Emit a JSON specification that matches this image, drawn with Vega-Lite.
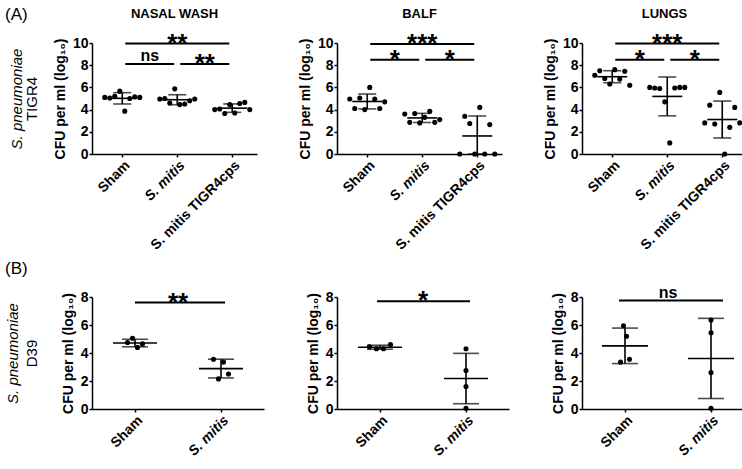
{
"$schema": "https://vega.github.io/schema/vega-lite/v6.json",
"background": "white",
"padding": 5,
"title": {"text": "(A)", "anchor": "start", "frame": "bounds", "offset": -16, "fontSize": 17, "fontWeight": "normal", "font": "Liberation Sans", "color": "#000000"},
"datasets": {
"pts": [
{"strain":"TIGR4","site":"NASAL WASH","group":"Sham","mouse":1,"cfu":5.1},
{"strain":"TIGR4","site":"NASAL WASH","group":"Sham","mouse":2,"cfu":5.05},
{"strain":"TIGR4","site":"NASAL WASH","group":"Sham","mouse":3,"cfu":5.2},
{"strain":"TIGR4","site":"NASAL WASH","group":"Sham","mouse":4,"cfu":5.66},
{"strain":"TIGR4","site":"NASAL WASH","group":"Sham","mouse":5,"cfu":3.86},
{"strain":"TIGR4","site":"NASAL WASH","group":"Sham","mouse":6,"cfu":5.0},
{"strain":"TIGR4","site":"NASAL WASH","group":"Sham","mouse":7,"cfu":5.15},
{"strain":"TIGR4","site":"NASAL WASH","group":"Sham","mouse":8,"cfu":5.1},
{"strain":"TIGR4","site":"NASAL WASH","group":"S. mitis","mouse":1,"cfu":4.95},
{"strain":"TIGR4","site":"NASAL WASH","group":"S. mitis","mouse":2,"cfu":5.0},
{"strain":"TIGR4","site":"NASAL WASH","group":"S. mitis","mouse":3,"cfu":4.6},
{"strain":"TIGR4","site":"NASAL WASH","group":"S. mitis","mouse":4,"cfu":5.87},
{"strain":"TIGR4","site":"NASAL WASH","group":"S. mitis","mouse":5,"cfu":4.45},
{"strain":"TIGR4","site":"NASAL WASH","group":"S. mitis","mouse":6,"cfu":4.5},
{"strain":"TIGR4","site":"NASAL WASH","group":"S. mitis","mouse":7,"cfu":4.8},
{"strain":"TIGR4","site":"NASAL WASH","group":"S. mitis","mouse":8,"cfu":4.95},
{"strain":"TIGR4","site":"NASAL WASH","group":"S. mitis TIGR4cps","mouse":1,"cfu":4.0},
{"strain":"TIGR4","site":"NASAL WASH","group":"S. mitis TIGR4cps","mouse":2,"cfu":4.05},
{"strain":"TIGR4","site":"NASAL WASH","group":"S. mitis TIGR4cps","mouse":3,"cfu":3.65},
{"strain":"TIGR4","site":"NASAL WASH","group":"S. mitis TIGR4cps","mouse":4,"cfu":4.45},
{"strain":"TIGR4","site":"NASAL WASH","group":"S. mitis TIGR4cps","mouse":5,"cfu":3.7},
{"strain":"TIGR4","site":"NASAL WASH","group":"S. mitis TIGR4cps","mouse":6,"cfu":4.55},
{"strain":"TIGR4","site":"NASAL WASH","group":"S. mitis TIGR4cps","mouse":7,"cfu":4.65},
{"strain":"TIGR4","site":"NASAL WASH","group":"S. mitis TIGR4cps","mouse":8,"cfu":4.0},
{"strain":"TIGR4","site":"BALF","group":"Sham","mouse":1,"cfu":4.95},
{"strain":"TIGR4","site":"BALF","group":"Sham","mouse":2,"cfu":4.1},
{"strain":"TIGR4","site":"BALF","group":"Sham","mouse":3,"cfu":5.05},
{"strain":"TIGR4","site":"BALF","group":"Sham","mouse":4,"cfu":4.0},
{"strain":"TIGR4","site":"BALF","group":"Sham","mouse":5,"cfu":6.0},
{"strain":"TIGR4","site":"BALF","group":"Sham","mouse":6,"cfu":4.95},
{"strain":"TIGR4","site":"BALF","group":"Sham","mouse":7,"cfu":4.1},
{"strain":"TIGR4","site":"BALF","group":"Sham","mouse":8,"cfu":4.7},
{"strain":"TIGR4","site":"BALF","group":"S. mitis","mouse":1,"cfu":3.6},
{"strain":"TIGR4","site":"BALF","group":"S. mitis","mouse":2,"cfu":2.85},
{"strain":"TIGR4","site":"BALF","group":"S. mitis","mouse":3,"cfu":3.65},
{"strain":"TIGR4","site":"BALF","group":"S. mitis","mouse":4,"cfu":2.8},
{"strain":"TIGR4","site":"BALF","group":"S. mitis","mouse":5,"cfu":3.3},
{"strain":"TIGR4","site":"BALF","group":"S. mitis","mouse":6,"cfu":3.85},
{"strain":"TIGR4","site":"BALF","group":"S. mitis","mouse":7,"cfu":2.85},
{"strain":"TIGR4","site":"BALF","group":"S. mitis","mouse":8,"cfu":3.1},
{"strain":"TIGR4","site":"BALF","group":"S. mitis TIGR4cps","mouse":1,"cfu":0},
{"strain":"TIGR4","site":"BALF","group":"S. mitis TIGR4cps","mouse":2,"cfu":3.4},
{"strain":"TIGR4","site":"BALF","group":"S. mitis TIGR4cps","mouse":3,"cfu":2.75},
{"strain":"TIGR4","site":"BALF","group":"S. mitis TIGR4cps","mouse":4,"cfu":0},
{"strain":"TIGR4","site":"BALF","group":"S. mitis TIGR4cps","mouse":5,"cfu":4.2},
{"strain":"TIGR4","site":"BALF","group":"S. mitis TIGR4cps","mouse":6,"cfu":0},
{"strain":"TIGR4","site":"BALF","group":"S. mitis TIGR4cps","mouse":7,"cfu":2.65},
{"strain":"TIGR4","site":"BALF","group":"S. mitis TIGR4cps","mouse":8,"cfu":0},
{"strain":"TIGR4","site":"LUNGS","group":"Sham","mouse":1,"cfu":7.1},
{"strain":"TIGR4","site":"LUNGS","group":"Sham","mouse":2,"cfu":7.5},
{"strain":"TIGR4","site":"LUNGS","group":"Sham","mouse":3,"cfu":6.8},
{"strain":"TIGR4","site":"LUNGS","group":"Sham","mouse":4,"cfu":6.3},
{"strain":"TIGR4","site":"LUNGS","group":"Sham","mouse":5,"cfu":7.6},
{"strain":"TIGR4","site":"LUNGS","group":"Sham","mouse":6,"cfu":6.75},
{"strain":"TIGR4","site":"LUNGS","group":"Sham","mouse":7,"cfu":7.45},
{"strain":"TIGR4","site":"LUNGS","group":"Sham","mouse":8,"cfu":6.2},
{"strain":"TIGR4","site":"LUNGS","group":"S. mitis","mouse":1,"cfu":6.0},
{"strain":"TIGR4","site":"LUNGS","group":"S. mitis","mouse":2,"cfu":5.95},
{"strain":"TIGR4","site":"LUNGS","group":"S. mitis","mouse":3,"cfu":5.9},
{"strain":"TIGR4","site":"LUNGS","group":"S. mitis","mouse":4,"cfu":4.7},
{"strain":"TIGR4","site":"LUNGS","group":"S. mitis","mouse":5,"cfu":1.0},
{"strain":"TIGR4","site":"LUNGS","group":"S. mitis","mouse":6,"cfu":5.95},
{"strain":"TIGR4","site":"LUNGS","group":"S. mitis","mouse":7,"cfu":6.0},
{"strain":"TIGR4","site":"LUNGS","group":"S. mitis","mouse":8,"cfu":6.0},
{"strain":"TIGR4","site":"LUNGS","group":"S. mitis TIGR4cps","mouse":1,"cfu":2.8},
{"strain":"TIGR4","site":"LUNGS","group":"S. mitis TIGR4cps","mouse":2,"cfu":4.4},
{"strain":"TIGR4","site":"LUNGS","group":"S. mitis TIGR4cps","mouse":3,"cfu":2.7},
{"strain":"TIGR4","site":"LUNGS","group":"S. mitis TIGR4cps","mouse":4,"cfu":5.55},
{"strain":"TIGR4","site":"LUNGS","group":"S. mitis TIGR4cps","mouse":5,"cfu":0},
{"strain":"TIGR4","site":"LUNGS","group":"S. mitis TIGR4cps","mouse":6,"cfu":2.4},
{"strain":"TIGR4","site":"LUNGS","group":"S. mitis TIGR4cps","mouse":7,"cfu":4.2},
{"strain":"TIGR4","site":"LUNGS","group":"S. mitis TIGR4cps","mouse":8,"cfu":2.8},
{"strain":"D39","site":"NASAL WASH","group":"Sham","mouse":1,"cfu":4.75},
{"strain":"D39","site":"NASAL WASH","group":"Sham","mouse":2,"cfu":5.05},
{"strain":"D39","site":"NASAL WASH","group":"Sham","mouse":3,"cfu":4.4},
{"strain":"D39","site":"NASAL WASH","group":"Sham","mouse":4,"cfu":4.65},
{"strain":"D39","site":"NASAL WASH","group":"S. mitis","mouse":1,"cfu":3.55},
{"strain":"D39","site":"NASAL WASH","group":"S. mitis","mouse":2,"cfu":2.15},
{"strain":"D39","site":"NASAL WASH","group":"S. mitis","mouse":3,"cfu":3.35},
{"strain":"D39","site":"NASAL WASH","group":"S. mitis","mouse":4,"cfu":2.5},
{"strain":"D39","site":"BALF","group":"Sham","mouse":1,"cfu":4.45},
{"strain":"D39","site":"BALF","group":"Sham","mouse":2,"cfu":4.3},
{"strain":"D39","site":"BALF","group":"Sham","mouse":3,"cfu":4.3},
{"strain":"D39","site":"BALF","group":"Sham","mouse":4,"cfu":4.6},
{"strain":"D39","site":"BALF","group":"S. mitis","mouse":1,"cfu":4.3},
{"strain":"D39","site":"BALF","group":"S. mitis","mouse":2,"cfu":2.75},
{"strain":"D39","site":"BALF","group":"S. mitis","mouse":3,"cfu":1.6},
{"strain":"D39","site":"BALF","group":"S. mitis","mouse":4,"cfu":0.05},
{"strain":"D39","site":"LUNGS","group":"Sham","mouse":1,"cfu":3.35},
{"strain":"D39","site":"LUNGS","group":"Sham","mouse":2,"cfu":5.95},
{"strain":"D39","site":"LUNGS","group":"Sham","mouse":3,"cfu":5.2},
{"strain":"D39","site":"LUNGS","group":"Sham","mouse":4,"cfu":3.55},
{"strain":"D39","site":"LUNGS","group":"S. mitis","mouse":1,"cfu":6.35},
{"strain":"D39","site":"LUNGS","group":"S. mitis","mouse":2,"cfu":5.45},
{"strain":"D39","site":"LUNGS","group":"S. mitis","mouse":3,"cfu":2.6},
{"strain":"D39","site":"LUNGS","group":"S. mitis","mouse":4,"cfu":0.05}
],
"sig": [
{"strain":"TIGR4","site":"NASAL WASH","from":"Sham","to":"S. mitis TIGR4cps","mid":"S. mitis","y":9.95,"label":"**"},
{"strain":"TIGR4","site":"NASAL WASH","from":"Sham","to":"S. mitis","mid":"Sham~S. mitis","y":8.1,"label":"ns"},
{"strain":"TIGR4","site":"NASAL WASH","from":"S. mitis","to":"S. mitis TIGR4cps","mid":"S. mitis~TIGR4cps","y":8.1,"label":"**"},
{"strain":"TIGR4","site":"BALF","from":"Sham","to":"S. mitis TIGR4cps","mid":"S. mitis","y":9.9,"label":"***"},
{"strain":"TIGR4","site":"BALF","from":"Sham","to":"S. mitis","mid":"Sham~S. mitis","y":8.5,"label":"*"},
{"strain":"TIGR4","site":"BALF","from":"S. mitis","to":"S. mitis TIGR4cps","mid":"S. mitis~TIGR4cps","y":8.5,"label":"*"},
{"strain":"TIGR4","site":"LUNGS","from":"Sham","to":"S. mitis TIGR4cps","mid":"S. mitis","y":9.95,"label":"***"},
{"strain":"TIGR4","site":"LUNGS","from":"Sham","to":"S. mitis","mid":"Sham~S. mitis","y":8.5,"label":"*"},
{"strain":"TIGR4","site":"LUNGS","from":"S. mitis","to":"S. mitis TIGR4cps","mid":"S. mitis~TIGR4cps","y":8.5,"label":"*"},
{"strain":"D39","site":"NASAL WASH","from":"Sham","to":"S. mitis","mid":"Sham~S. mitis","y":7.6,"label":"**"},
{"strain":"D39","site":"BALF","from":"Sham","to":"S. mitis","mid":"Sham~S. mitis","y":7.7,"label":"*"},
{"strain":"D39","site":"LUNGS","from":"Sham","to":"S. mitis","mid":"Sham~S. mitis","y":7.75,"label":"ns"}
]
},
"columns": 3,
"spacing": {"row": 6, "column": 34},
"concat": [
{
"width": 165, "height": 111, "title": "NASAL WASH",
"resolve": {"axis": {"x": "independent", "y": "independent"}},
"layer": [
{"data": {"name": "pts"}, "transform": [{"filter": "datum.strain==='TIGR4'&&datum.site==='NASAL WASH'"}],
 "mark": {"type": "circle", "size": 26, "color": "black", "opacity": 1, "xOffset": {"expr": "(datum.mouse - 4.5) * 5"}},
 "encoding": {
  "x": {"field": "group", "type": "nominal", "scale": {"type": "point", "domain": ["Sham","Sham~S. mitis","S. mitis","S. mitis~TIGR4cps","S. mitis TIGR4cps"], "padding": 1.24, "align": 0.55},
        "axis": {"orient": "bottom", "values": ["Sham","S. mitis","S. mitis TIGR4cps"], "labelAngle": -45, "title": null, "labelFontStyle": {"condition": {"test": "datum.value === 'S. mitis'", "value": "italic"}, "value": "normal"}}},
  "y": {"field": "cfu", "type": "quantitative", "scale": {"domain": [0, 10], "nice": false, "clamp": true}, "axis": {"orient": "left", "values": [0,2,4,6,8,10], "title": "CFU per ml (log₁₀)"}}}},
{"data": {"name": "pts"}, "transform": [{"filter": "datum.strain==='TIGR4'&&datum.site==='NASAL WASH'"}, {"aggregate": [{"op": "mean", "field": "cfu", "as": "m"}, {"op": "stdev", "field": "cfu", "as": "sd"}], "groupby": ["group"]}, {"calculate": "datum.m - datum.sd", "as": "lo"}, {"calculate": "datum.m + datum.sd", "as": "hi"}],
 "mark": {"type": "rule", "strokeWidth": 1.6, "color": "black"},
 "encoding": {"x": {"field": "group", "type": "nominal", "axis": null}, "y": {"field": "lo", "type": "quantitative", "axis": {"orient": "left", "offset": 68, "title": "S. pneumoniae", "titleFontStyle": "italic", "titleFontWeight": "normal", "titleFontSize": 15, "labels": false, "ticks": false, "domain": false, "titlePadding": 0}}, "y2": {"field": "hi"}}},
{"data": {"name": "pts"}, "transform": [{"filter": "datum.strain==='TIGR4'&&datum.site==='NASAL WASH'"}, {"aggregate": [{"op": "mean", "field": "cfu", "as": "m"}, {"op": "stdev", "field": "cfu", "as": "sd"}], "groupby": ["group"]}, {"calculate": "datum.m - datum.sd", "as": "lo"}, {"calculate": "datum.m + datum.sd", "as": "hi"}, {"fold": ["lo", "hi"], "as": ["bound", "v"]}],
 "mark": {"type": "tick", "size": 18, "thickness": 1.6, "color": "black"},
 "encoding": {"x": {"field": "group", "type": "nominal", "axis": null}, "y": {"field": "v", "type": "quantitative", "axis": null}}},
{"data": {"name": "pts"}, "transform": [{"filter": "datum.strain==='TIGR4'&&datum.site==='NASAL WASH'"}],
 "mark": {"type": "tick", "size": 30, "thickness": 1.6, "color": "black"},
 "encoding": {"x": {"field": "group", "type": "nominal", "axis": null}, "y": {"aggregate": "mean", "field": "cfu", "type": "quantitative", "axis": {"orient": "left", "offset": 53, "title": "TIGR4", "titleFontWeight": "normal", "titleFontSize": 15, "labels": false, "ticks": false, "domain": false, "titlePadding": 0}}}},
{"data": {"name": "sig"}, "transform": [{"filter": "datum.strain==='TIGR4'&&datum.site==='NASAL WASH'"}],
 "mark": {"type": "rule", "strokeWidth": 2, "color": "black", "xOffset": 3, "x2Offset": -3},
 "encoding": {"x": {"field": "from", "type": "nominal", "axis": null}, "x2": {"field": "to"}, "y": {"field": "y", "type": "quantitative", "axis": null}}},
{"data": {"name": "sig"}, "transform": [{"filter": "datum.strain==='TIGR4'&&datum.site==='NASAL WASH'&&datum.label!=='ns'"}],
 "mark": {"type": "text", "fontSize": 26, "fontWeight": "bold", "baseline": "alphabetic", "dy": 8, "color": "black"},
 "encoding": {"x": {"field": "mid", "type": "nominal", "axis": null}, "y": {"field": "y", "type": "quantitative", "axis": null}, "text": {"field": "label"}}},
{"data": {"name": "sig"}, "transform": [{"filter": "datum.strain==='TIGR4'&&datum.site==='NASAL WASH'&&datum.label==='ns'"}],
 "mark": {"type": "text", "fontSize": 16, "fontWeight": "bold", "baseline": "alphabetic", "dy": -3, "color": "black"},
 "encoding": {"x": {"field": "mid", "type": "nominal", "axis": null}, "y": {"field": "y", "type": "quantitative", "axis": null}, "text": {"field": "label"}}}
]
},
{
"width": 165, "height": 111, "title": "BALF",
"resolve": {"axis": {"x": "independent", "y": "independent"}},
"layer": [
{"data": {"name": "pts"}, "transform": [{"filter": "datum.strain==='TIGR4'&&datum.site==='BALF'"}],
 "mark": {"type": "circle", "size": 26, "color": "black", "opacity": 1, "xOffset": {"expr": "(datum.mouse - 4.5) * 5"}},
 "encoding": {
  "x": {"field": "group", "type": "nominal", "scale": {"type": "point", "domain": ["Sham","Sham~S. mitis","S. mitis","S. mitis~TIGR4cps","S. mitis TIGR4cps"], "padding": 1.24, "align": 0.55},
        "axis": {"orient": "bottom", "values": ["Sham","S. mitis","S. mitis TIGR4cps"], "labelAngle": -45, "title": null, "labelFontStyle": {"condition": {"test": "datum.value === 'S. mitis'", "value": "italic"}, "value": "normal"}}},
  "y": {"field": "cfu", "type": "quantitative", "scale": {"domain": [0, 10], "nice": false, "clamp": true}, "axis": {"orient": "left", "values": [0,2,4,6,8,10], "title": "CFU per ml (log₁₀)"}}}},
{"data": {"name": "pts"}, "transform": [{"filter": "datum.strain==='TIGR4'&&datum.site==='BALF'"}, {"aggregate": [{"op": "mean", "field": "cfu", "as": "m"}, {"op": "stdev", "field": "cfu", "as": "sd"}], "groupby": ["group"]}, {"calculate": "datum.m - datum.sd", "as": "lo"}, {"calculate": "datum.m + datum.sd", "as": "hi"}],
 "mark": {"type": "rule", "strokeWidth": 1.6, "color": "black"},
 "encoding": {"x": {"field": "group", "type": "nominal", "axis": null}, "y": {"field": "lo", "type": "quantitative", "axis": null}, "y2": {"field": "hi"}}},
{"data": {"name": "pts"}, "transform": [{"filter": "datum.strain==='TIGR4'&&datum.site==='BALF'"}, {"aggregate": [{"op": "mean", "field": "cfu", "as": "m"}, {"op": "stdev", "field": "cfu", "as": "sd"}], "groupby": ["group"]}, {"calculate": "datum.m - datum.sd", "as": "lo"}, {"calculate": "datum.m + datum.sd", "as": "hi"}, {"fold": ["lo", "hi"], "as": ["bound", "v"]}],
 "mark": {"type": "tick", "size": 18, "thickness": 1.6, "color": "black"},
 "encoding": {"x": {"field": "group", "type": "nominal", "axis": null}, "y": {"field": "v", "type": "quantitative", "axis": null}}},
{"data": {"name": "pts"}, "transform": [{"filter": "datum.strain==='TIGR4'&&datum.site==='BALF'"}],
 "mark": {"type": "tick", "size": 30, "thickness": 1.6, "color": "black"},
 "encoding": {"x": {"field": "group", "type": "nominal", "axis": null}, "y": {"aggregate": "mean", "field": "cfu", "type": "quantitative", "axis": null}}},
{"data": {"name": "sig"}, "transform": [{"filter": "datum.strain==='TIGR4'&&datum.site==='BALF'"}],
 "mark": {"type": "rule", "strokeWidth": 2, "color": "black", "xOffset": 3, "x2Offset": -3},
 "encoding": {"x": {"field": "from", "type": "nominal", "axis": null}, "x2": {"field": "to"}, "y": {"field": "y", "type": "quantitative", "axis": null}}},
{"data": {"name": "sig"}, "transform": [{"filter": "datum.strain==='TIGR4'&&datum.site==='BALF'&&datum.label!=='ns'"}],
 "mark": {"type": "text", "fontSize": 26, "fontWeight": "bold", "baseline": "alphabetic", "dy": 8, "color": "black"},
 "encoding": {"x": {"field": "mid", "type": "nominal", "axis": null}, "y": {"field": "y", "type": "quantitative", "axis": null}, "text": {"field": "label"}}}
]
},
{
"width": 165, "height": 111, "title": "LUNGS",
"resolve": {"axis": {"x": "independent", "y": "independent"}},
"layer": [
{"data": {"name": "pts"}, "transform": [{"filter": "datum.strain==='TIGR4'&&datum.site==='LUNGS'"}],
 "mark": {"type": "circle", "size": 26, "color": "black", "opacity": 1, "xOffset": {"expr": "(datum.mouse - 4.5) * 5"}},
 "encoding": {
  "x": {"field": "group", "type": "nominal", "scale": {"type": "point", "domain": ["Sham","Sham~S. mitis","S. mitis","S. mitis~TIGR4cps","S. mitis TIGR4cps"], "padding": 1.24, "align": 0.55},
        "axis": {"orient": "bottom", "values": ["Sham","S. mitis","S. mitis TIGR4cps"], "labelAngle": -45, "title": null, "labelFontStyle": {"condition": {"test": "datum.value === 'S. mitis'", "value": "italic"}, "value": "normal"}}},
  "y": {"field": "cfu", "type": "quantitative", "scale": {"domain": [0, 10], "nice": false, "clamp": true}, "axis": {"orient": "left", "values": [0,2,4,6,8,10], "title": "CFU per ml (log₁₀)"}}}},
{"data": {"name": "pts"}, "transform": [{"filter": "datum.strain==='TIGR4'&&datum.site==='LUNGS'"}, {"aggregate": [{"op": "mean", "field": "cfu", "as": "m"}, {"op": "stdev", "field": "cfu", "as": "sd"}], "groupby": ["group"]}, {"calculate": "datum.m - datum.sd", "as": "lo"}, {"calculate": "datum.m + datum.sd", "as": "hi"}],
 "mark": {"type": "rule", "strokeWidth": 1.6, "color": "black"},
 "encoding": {"x": {"field": "group", "type": "nominal", "axis": null}, "y": {"field": "lo", "type": "quantitative", "axis": null}, "y2": {"field": "hi"}}},
{"data": {"name": "pts"}, "transform": [{"filter": "datum.strain==='TIGR4'&&datum.site==='LUNGS'"}, {"aggregate": [{"op": "mean", "field": "cfu", "as": "m"}, {"op": "stdev", "field": "cfu", "as": "sd"}], "groupby": ["group"]}, {"calculate": "datum.m - datum.sd", "as": "lo"}, {"calculate": "datum.m + datum.sd", "as": "hi"}, {"fold": ["lo", "hi"], "as": ["bound", "v"]}],
 "mark": {"type": "tick", "size": 18, "thickness": 1.6, "color": "black"},
 "encoding": {"x": {"field": "group", "type": "nominal", "axis": null}, "y": {"field": "v", "type": "quantitative", "axis": null}}},
{"data": {"name": "pts"}, "transform": [{"filter": "datum.strain==='TIGR4'&&datum.site==='LUNGS'"}],
 "mark": {"type": "tick", "size": 30, "thickness": 1.6, "color": "black"},
 "encoding": {"x": {"field": "group", "type": "nominal", "axis": null}, "y": {"aggregate": "mean", "field": "cfu", "type": "quantitative", "axis": null}}},
{"data": {"name": "sig"}, "transform": [{"filter": "datum.strain==='TIGR4'&&datum.site==='LUNGS'"}],
 "mark": {"type": "rule", "strokeWidth": 2, "color": "black", "xOffset": 3, "x2Offset": -3},
 "encoding": {"x": {"field": "from", "type": "nominal", "axis": null}, "x2": {"field": "to"}, "y": {"field": "y", "type": "quantitative", "axis": null}}},
{"data": {"name": "sig"}, "transform": [{"filter": "datum.strain==='TIGR4'&&datum.site==='LUNGS'&&datum.label!=='ns'"}],
 "mark": {"type": "text", "fontSize": 26, "fontWeight": "bold", "baseline": "alphabetic", "dy": 8, "color": "black"},
 "encoding": {"x": {"field": "mid", "type": "nominal", "axis": null}, "y": {"field": "y", "type": "quantitative", "axis": null}, "text": {"field": "label"}}}
]
},
{
"width": 172, "height": 112,
"title": {"text": "(B)", "anchor": "start", "frame": "bounds", "offset": 12, "fontSize": 17, "fontWeight": "normal"},
"resolve": {"axis": {"x": "independent", "y": "independent"}},
"layer": [
{"data": {"name": "pts"}, "transform": [{"filter": "datum.strain==='D39'&&datum.site==='NASAL WASH'"}],
 "mark": {"type": "circle", "size": 26, "color": "black", "opacity": 1, "xOffset": {"expr": "(datum.mouse - 2.5) * 5"}},
 "encoding": {
  "x": {"field": "group", "type": "nominal", "scale": {"type": "point", "domain": ["Sham","Sham~S. mitis","S. mitis"], "padding": 1.32, "align": 0.5},
        "axis": {"orient": "bottom", "values": ["Sham","S. mitis"], "labelAngle": -45, "title": null, "labelFontStyle": {"condition": {"test": "datum.value === 'S. mitis'", "value": "italic"}, "value": "normal"}}},
  "y": {"field": "cfu", "type": "quantitative", "scale": {"domain": [0, 8], "nice": false, "clamp": true}, "axis": {"orient": "left", "values": [0,2,4,6,8], "title": "CFU per ml (log₁₀)"}}}},
{"data": {"name": "pts"}, "transform": [{"filter": "datum.strain==='D39'&&datum.site==='NASAL WASH'"}, {"aggregate": [{"op": "mean", "field": "cfu", "as": "m"}, {"op": "stdev", "field": "cfu", "as": "sd"}], "groupby": ["group"]}, {"calculate": "datum.m - datum.sd", "as": "lo"}, {"calculate": "datum.m + datum.sd", "as": "hi"}],
 "mark": {"type": "rule", "strokeWidth": 1.6, "color": "black"},
 "encoding": {"x": {"field": "group", "type": "nominal", "axis": null}, "y": {"field": "lo", "type": "quantitative", "axis": {"orient": "left", "offset": 72, "title": "S. pneumoniae", "titleFontStyle": "italic", "titleFontWeight": "normal", "titleFontSize": 15, "labels": false, "ticks": false, "domain": false, "titlePadding": 0}}, "y2": {"field": "hi"}}},
{"data": {"name": "pts"}, "transform": [{"filter": "datum.strain==='D39'&&datum.site==='NASAL WASH'"}, {"aggregate": [{"op": "mean", "field": "cfu", "as": "m"}, {"op": "stdev", "field": "cfu", "as": "sd"}], "groupby": ["group"]}, {"calculate": "datum.m - datum.sd", "as": "lo"}, {"calculate": "datum.m + datum.sd", "as": "hi"}, {"fold": ["lo", "hi"], "as": ["bound", "v"]}],
 "mark": {"type": "tick", "size": 26, "thickness": 1.6, "color": "black"},
 "encoding": {"x": {"field": "group", "type": "nominal", "axis": null}, "y": {"field": "v", "type": "quantitative", "axis": null}}},
{"data": {"name": "pts"}, "transform": [{"filter": "datum.strain==='D39'&&datum.site==='NASAL WASH'"}],
 "mark": {"type": "tick", "size": 44, "thickness": 1.6, "color": "black"},
 "encoding": {"x": {"field": "group", "type": "nominal", "axis": null}, "y": {"aggregate": "mean", "field": "cfu", "type": "quantitative", "axis": {"orient": "left", "offset": 53, "title": "D39", "titleFontWeight": "normal", "titleFontSize": 15, "labels": false, "ticks": false, "domain": false, "titlePadding": 0}}}},
{"data": {"name": "sig"}, "transform": [{"filter": "datum.strain==='D39'&&datum.site==='NASAL WASH'"}],
 "mark": {"type": "rule", "strokeWidth": 2, "color": "black", "xOffset": 0, "x2Offset": 4},
 "encoding": {"x": {"field": "from", "type": "nominal", "axis": null}, "x2": {"field": "to"}, "y": {"field": "y", "type": "quantitative", "axis": null}}},
{"data": {"name": "sig"}, "transform": [{"filter": "datum.strain==='D39'&&datum.site==='NASAL WASH'&&datum.label!=='ns'"}],
 "mark": {"type": "text", "fontSize": 26, "fontWeight": "bold", "baseline": "alphabetic", "dy": 8, "color": "black"},
 "encoding": {"x": {"field": "mid", "type": "nominal", "axis": null}, "y": {"field": "y", "type": "quantitative", "axis": null}, "text": {"field": "label"}}}
]
},
{
"width": 172, "height": 112,
"resolve": {"axis": {"x": "independent", "y": "independent"}},
"layer": [
{"data": {"name": "pts"}, "transform": [{"filter": "datum.strain==='D39'&&datum.site==='BALF'"}],
 "mark": {"type": "circle", "size": 26, "color": "black", "opacity": 1, "xOffset": {"expr": "datum.group === 'Sham' ? (datum.mouse - 2.5) * 7 : 0"}},
 "encoding": {
  "x": {"field": "group", "type": "nominal", "scale": {"type": "point", "domain": ["Sham","Sham~S. mitis","S. mitis"], "padding": 1.32, "align": 0.5},
        "axis": {"orient": "bottom", "values": ["Sham","S. mitis"], "labelAngle": -45, "title": null, "labelFontStyle": {"condition": {"test": "datum.value === 'S. mitis'", "value": "italic"}, "value": "normal"}}},
  "y": {"field": "cfu", "type": "quantitative", "scale": {"domain": [0, 8], "nice": false, "clamp": true}, "axis": {"orient": "left", "values": [0,2,4,6,8], "title": "CFU per ml (log₁₀)"}}}},
{"data": {"name": "pts"}, "transform": [{"filter": "datum.strain==='D39'&&datum.site==='BALF'"}, {"aggregate": [{"op": "mean", "field": "cfu", "as": "m"}, {"op": "stdev", "field": "cfu", "as": "sd"}], "groupby": ["group"]}, {"calculate": "datum.m - datum.sd", "as": "lo"}, {"calculate": "datum.m + datum.sd", "as": "hi"}],
 "mark": {"type": "rule", "strokeWidth": 1.6, "color": "black"},
 "encoding": {"x": {"field": "group", "type": "nominal", "axis": null}, "y": {"field": "lo", "type": "quantitative", "axis": null}, "y2": {"field": "hi"}}},
{"data": {"name": "pts"}, "transform": [{"filter": "datum.strain==='D39'&&datum.site==='BALF'"}, {"aggregate": [{"op": "mean", "field": "cfu", "as": "m"}, {"op": "stdev", "field": "cfu", "as": "sd"}], "groupby": ["group"]}, {"calculate": "datum.m - datum.sd", "as": "lo"}, {"calculate": "datum.m + datum.sd", "as": "hi"}, {"fold": ["lo", "hi"], "as": ["bound", "v"]}],
 "mark": {"type": "tick", "size": 26, "thickness": 1.6, "color": "black"},
 "encoding": {"x": {"field": "group", "type": "nominal", "axis": null}, "y": {"field": "v", "type": "quantitative", "axis": null}}},
{"data": {"name": "pts"}, "transform": [{"filter": "datum.strain==='D39'&&datum.site==='BALF'"}],
 "mark": {"type": "tick", "size": 44, "thickness": 1.6, "color": "black"},
 "encoding": {"x": {"field": "group", "type": "nominal", "axis": null}, "y": {"aggregate": "mean", "field": "cfu", "type": "quantitative", "axis": null}}},
{"data": {"name": "sig"}, "transform": [{"filter": "datum.strain==='D39'&&datum.site==='BALF'"}],
 "mark": {"type": "rule", "strokeWidth": 2, "color": "black", "xOffset": -3, "x2Offset": 4},
 "encoding": {"x": {"field": "from", "type": "nominal", "axis": null}, "x2": {"field": "to"}, "y": {"field": "y", "type": "quantitative", "axis": null}}},
{"data": {"name": "sig"}, "transform": [{"filter": "datum.strain==='D39'&&datum.site==='BALF'&&datum.label!=='ns'"}],
 "mark": {"type": "text", "fontSize": 26, "fontWeight": "bold", "baseline": "alphabetic", "dy": 8, "color": "black"},
 "encoding": {"x": {"field": "mid", "type": "nominal", "axis": null}, "y": {"field": "y", "type": "quantitative", "axis": null}, "text": {"field": "label"}}}
]
},
{
"width": 172, "height": 112,
"resolve": {"axis": {"x": "independent", "y": "independent"}},
"layer": [
{"data": {"name": "pts"}, "transform": [{"filter": "datum.strain==='D39'&&datum.site==='LUNGS'"}],
 "mark": {"type": "circle", "size": 26, "color": "black", "opacity": 1, "xOffset": {"expr": "datum.group === 'Sham' ? (datum.mouse - 2.5) * 3 : 0"}},
 "encoding": {
  "x": {"field": "group", "type": "nominal", "scale": {"type": "point", "domain": ["Sham","Sham~S. mitis","S. mitis"], "padding": 1.32, "align": 0.5},
        "axis": {"orient": "bottom", "values": ["Sham","S. mitis"], "labelAngle": -45, "title": null, "labelFontStyle": {"condition": {"test": "datum.value === 'S. mitis'", "value": "italic"}, "value": "normal"}}},
  "y": {"field": "cfu", "type": "quantitative", "scale": {"domain": [0, 8], "nice": false, "clamp": true}, "axis": {"orient": "left", "values": [0,2,4,6,8], "title": "CFU per ml (log₁₀)"}}}},
{"data": {"name": "pts"}, "transform": [{"filter": "datum.strain==='D39'&&datum.site==='LUNGS'"}, {"aggregate": [{"op": "mean", "field": "cfu", "as": "m"}, {"op": "stdev", "field": "cfu", "as": "sd"}], "groupby": ["group"]}, {"calculate": "datum.m - datum.sd", "as": "lo"}, {"calculate": "datum.m + datum.sd", "as": "hi"}],
 "mark": {"type": "rule", "strokeWidth": 1.6, "color": "black"},
 "encoding": {"x": {"field": "group", "type": "nominal", "axis": null}, "y": {"field": "lo", "type": "quantitative", "axis": null}, "y2": {"field": "hi"}}},
{"data": {"name": "pts"}, "transform": [{"filter": "datum.strain==='D39'&&datum.site==='LUNGS'"}, {"aggregate": [{"op": "mean", "field": "cfu", "as": "m"}, {"op": "stdev", "field": "cfu", "as": "sd"}], "groupby": ["group"]}, {"calculate": "datum.m - datum.sd", "as": "lo"}, {"calculate": "datum.m + datum.sd", "as": "hi"}, {"fold": ["lo", "hi"], "as": ["bound", "v"]}],
 "mark": {"type": "tick", "size": 26, "thickness": 1.6, "color": "black"},
 "encoding": {"x": {"field": "group", "type": "nominal", "axis": null}, "y": {"field": "v", "type": "quantitative", "axis": null}}},
{"data": {"name": "pts"}, "transform": [{"filter": "datum.strain==='D39'&&datum.site==='LUNGS'"}],
 "mark": {"type": "tick", "size": 46, "thickness": 1.6, "color": "black"},
 "encoding": {"x": {"field": "group", "type": "nominal", "axis": null}, "y": {"aggregate": "mean", "field": "cfu", "type": "quantitative", "axis": null}}},
{"data": {"name": "sig"}, "transform": [{"filter": "datum.strain==='D39'&&datum.site==='LUNGS'"}],
 "mark": {"type": "rule", "strokeWidth": 2, "color": "black", "xOffset": -6, "x2Offset": 12},
 "encoding": {"x": {"field": "from", "type": "nominal", "axis": null}, "x2": {"field": "to"}, "y": {"field": "y", "type": "quantitative", "axis": null}}},
{"data": {"name": "sig"}, "transform": [{"filter": "datum.strain==='D39'&&datum.site==='LUNGS'&&datum.label==='ns'"}],
 "mark": {"type": "text", "fontSize": 16, "fontWeight": "bold", "baseline": "alphabetic", "dy": -3, "color": "black"},
 "encoding": {"x": {"field": "mid", "type": "nominal", "axis": null}, "y": {"field": "y", "type": "quantitative", "axis": null}, "text": {"field": "label"}}}
]
}
],
"config": {
 "font": "Liberation Sans",
 "view": {"stroke": null},
 "axis": {"domainColor": "#000000", "domainWidth": 1.5, "tickColor": "#000000", "tickWidth": 1.5, "tickSize": 3, "labelColor": "#000000", "labelFont": "Liberation Sans", "labelFontWeight": "bold", "labelFontSize": 14, "labelPadding": 1, "titleFont": "Liberation Sans", "titleFontWeight": "bold", "titleFontSize": 14, "titleColor": "#000000", "titlePadding": 5, "grid": false},
 "title": {"fontSize": 13, "fontWeight": "bold", "color": "#000000", "font": "Liberation Sans", "offset": 10}
}
}
